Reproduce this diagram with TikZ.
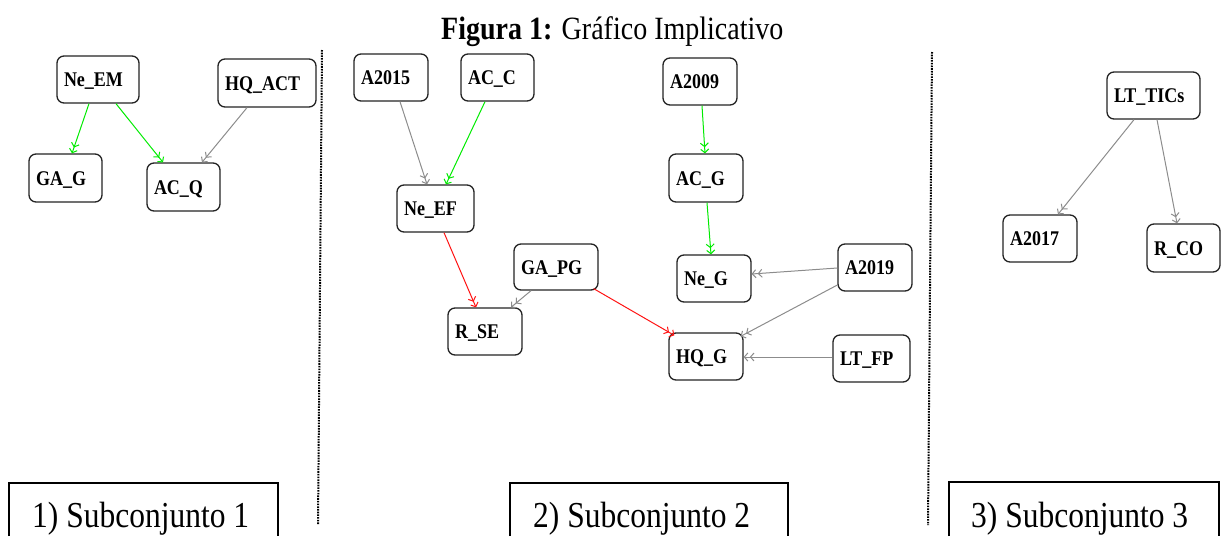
\documentclass[tikz,border=0pt]{standalone}
\usepackage{fontspec}
\usepackage{graphicx}
\setmainfont{Liberation Serif}
\usetikzlibrary{arrows.meta}
\definecolor{edgegreen}{RGB}{0,235,0}
\definecolor{edgegrey}{RGB}{140,140,140}
\definecolor{edgered}{RGB}{255,20,20}
\definecolor{boxline}{RGB}{35,35,35}
\newcommand{\vstr}[1]{\scalebox{1}[1.16]{#1}}
\tikzset{
  vbox/.style={draw=boxline, line width=1.3pt, rounded corners=7pt, inner xsep=7pt, inner ysep=0pt,
    align=left, font=\fontsize{18}{20}\selectfont\bfseries, text height=14pt, text depth=0pt},
  imp/.style={line width=1pt, -{Straight Barb[length=3.5pt,width=8pt,sep=1.5pt]Straight Barb[length=3.5pt,width=8pt]}},
  gre/.style={imp, draw=edgegreen},
  gry/.style={imp, draw=edgegrey},
  rdd/.style={imp, draw=edgered},
  divider/.style={line width=2pt, dash pattern=on 1.6pt off 1.1pt},
  frame/.style={line width=1.5pt},
  sublabel/.style={anchor=base west, inner sep=0pt, font=\fontsize{31.5}{34}\selectfont},
}
\begin{document}
\begin{tikzpicture}[x=1pt,y=-1pt]
\useasboundingbox (0,0) rectangle (1221,536);
% title
\node[anchor=base west, inner sep=0pt, font=\fontsize{28}{30}\selectfont] (title) at (441,39) {\vstr{\textbf{Figura 1:} Gráfico Implicativo}};
% dividers
\draw[divider] (322,50) -- (318,524);
\draw[divider] (932,52) -- (928,525);
% subset 1
\node[vbox, text width=68pt, minimum height=47pt] (NeEM) at (98,79.5) {\vstr{Ne\_EM}};
\node[vbox, text width=84pt, minimum height=48pt] (HQACT) at (267,83) {\vstr{HQ\_ACT}};
\node[vbox, text width=59pt, minimum height=48pt] (GAG) at (65.5,178) {\vstr{GA\_G}};
\node[vbox, text width=59pt, minimum height=48pt] (ACQ) at (183.5,187) {\vstr{AC\_Q}};
% subset 2
\node[vbox, text width=60pt, minimum height=47pt] (A2015) at (391,77.5) {\vstr{A2015}};
\node[vbox, text width=59pt, minimum height=47pt] (ACC) at (497.5,77.5) {\vstr{AC\_C}};
\node[vbox, text width=60pt, minimum height=47pt] (A2009) at (700,81.5) {\vstr{A2009}};
\node[vbox, text width=60pt, minimum height=48pt] (ACG) at (706,178) {\vstr{AC\_G}};
\node[vbox, text width=63pt, minimum height=47pt] (NeEF) at (435.5,208.5) {\vstr{Ne\_EF}};
\node[vbox, text width=70pt, minimum height=46pt] (GAPG) at (556,267) {\vstr{GA\_PG}};
\node[vbox, text width=60pt, minimum height=47pt] (RSE) at (485,331.5) {\vstr{R\_SE}};
\node[vbox, text width=60pt, minimum height=47pt] (NeG) at (714,278.5) {\vstr{Ne\_G}};
\node[vbox, text width=60pt, minimum height=47pt] (A2019) at (875,267.5) {\vstr{A2019}};
\node[vbox, text width=60pt, minimum height=47pt] (HQG) at (706,356.5) {\vstr{HQ\_G}};
\node[vbox, text width=63pt, minimum height=47pt] (LTFP) at (871.5,358.5) {\vstr{LT\_FP}};
% subset 3
\node[vbox, text width=79pt, minimum height=47pt] (LTTICs) at (1153.5,95.5) {\vstr{LT\_TICs}};
\node[vbox, text width=60pt, minimum height=47pt] (A2017) at (1040,238.5) {\vstr{A2017}};
\node[vbox, text width=59pt, minimum height=48pt] (RCO) at (1183.5,248) {\vstr{R\_CO}};
% edges subset 1
\draw[gre] ([xshift=-9pt]NeEM.south) -- ([xshift=6.5pt]GAG.north);
\draw[gre] ([xshift=18pt]NeEM.south) -- ([xshift=-20.5pt]ACQ.north);
\draw[gry] ([xshift=-20pt]HQACT.south) -- ([xshift=18.5pt]ACQ.north);
% edges subset 2
\draw[gry] ([xshift=9pt]A2015.south) -- ([xshift=-8.5pt]NeEF.north);
\draw[gre] ([xshift=-12.5pt]ACC.south) -- ([xshift=10.5pt]NeEF.north);
\draw[gre] ([xshift=2pt]A2009.south) -- ([xshift=-1pt]ACG.north);
\draw[gre] ([xshift=1pt]ACG.south) -- ([xshift=-3pt]NeG.north);
\draw[rdd] ([xshift=8.5pt]NeEF.south) -- ([xshift=-9pt]RSE.north);
\draw[gry] ([xshift=-25pt]GAPG.south) -- ([xshift=26pt]RSE.north);
\draw[rdd] ([xshift=-5pt,yshift=2pt]GAPG.south east) -- ([xshift=6pt,yshift=-3pt]HQG.north west);
\draw[gry] ([yshift=-0.5pt]A2019.west) -- ([yshift=4.5pt]NeG.east);
\draw[gry] ([yshift=-17.5pt]A2019.west) -- ([xshift=-3pt,yshift=-4pt]HQG.north east);
\draw[gry] ([yshift=1.5pt]LTFP.west) -- ([yshift=-0.5pt]HQG.east);
% edges subset 3
\draw[gry] ([xshift=-19.5pt]LTTICs.south) -- ([xshift=18pt]A2017.north);
\draw[gry] ([xshift=3.5pt]LTTICs.south) -- ([xshift=-6.5pt]RCO.north);
% subset labels
\draw[frame] (9,536) |- (278,483) -- (278,536);
\draw[frame] (510,536) |- (788,483) -- (788,536);
\draw[frame] (949,536) |- (1219,482) -- (1219,536);
\node[sublabel] (S1) at (32,527) {\vstr{1) Subconjunto 1}};
\node[sublabel] (S2) at (533,527) {\vstr{2) Subconjunto 2}};
\node[sublabel] (S3) at (971,527) {\vstr{3) Subconjunto 3}};
\end{tikzpicture}
\end{document}
